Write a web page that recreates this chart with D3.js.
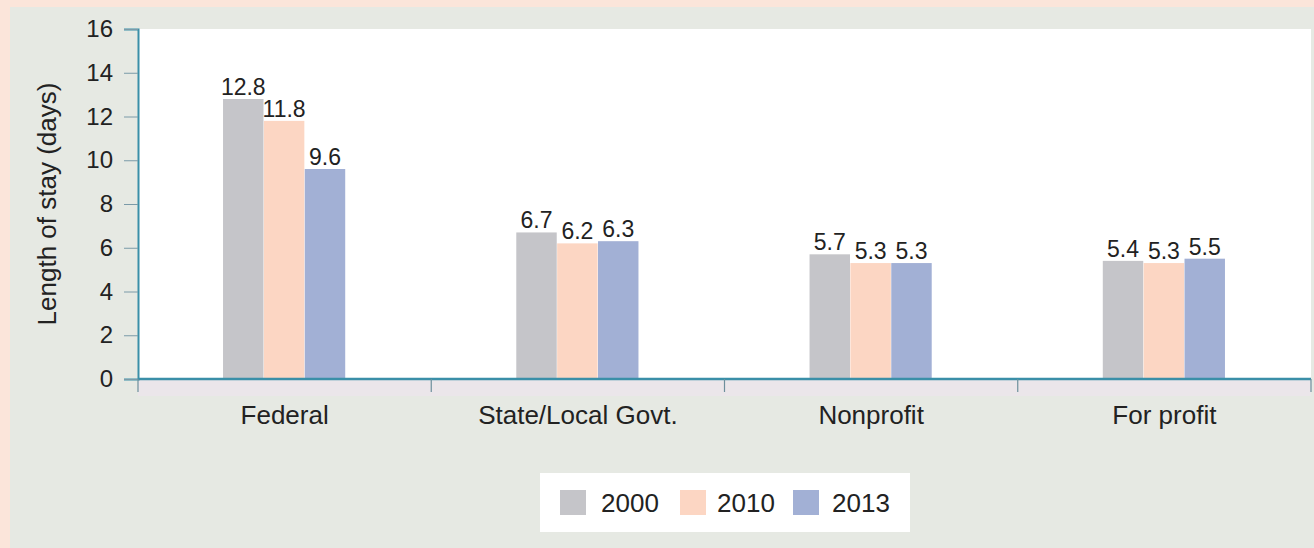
<!DOCTYPE html>
<html>
<head>
<meta charset="utf-8">
<script src="https://cdn.jsdelivr.net/npm/d3@7"></script>
<style>
  html, body { margin: 0; padding: 0; background: #fbe5da; }
  svg { display: block; font-family: "Liberation Sans", Arial, sans-serif; }
</style>
</head>
<body>
<svg id="chart" width="1314" height="548"></svg>
<script>
// Average length of hospital stay by ownership type
const categories = ["Federal", "State/Local Govt.", "Nonprofit", "For profit"];
const years = ["2000", "2010", "2013"];
const values2000 = [12.8, 6.7, 5.7, 5.4];
const values2010 = [11.8, 6.2, 5.3, 5.3];
const values2013 = [9.6, 6.3, 5.3, 5.5];
const yTicks = [0, 2, 4, 6, 8, 10, 12, 14, 16];
const colors = ["#c5c5c9", "#fcd6c3", "#a2b0d5"];

const series = [values2000, values2010, values2013];

const svg = d3.select("#chart");
const W = 1314, H = 548;
const plot = { left: 138, right: 1311, top: 29, bottom: 379 };
const FONT = "Liberation Sans, Arial, sans-serif";

// panel background
svg.append("rect").attr("x", 10).attr("y", 7).attr("width", W - 10).attr("height", H - 7)
  .attr("fill", "#e6e9e3");
// plot area
svg.append("rect").attr("x", plot.left).attr("y", plot.top)
  .attr("width", plot.right - plot.left).attr("height", plot.bottom - plot.top)
  .attr("fill", "#ffffff");
// faint band beneath the baseline
svg.append("rect").attr("x", plot.left).attr("y", plot.bottom + 1)
  .attr("width", plot.right - plot.left).attr("height", 16)
  .attr("fill", "#ebe6ea");

const x = d3.scaleBand().domain(categories).range([plot.left, plot.right]).paddingInner(0).paddingOuter(0);
const xSub = d3.scaleBand().domain(years).range([0, 123]).padding(0.01);
const y = d3.scaleLinear().domain([0, 16]).range([plot.bottom, plot.top]);

const axisColor = "#3a8fa8";

// bars
const rows = categories.map((c, i) => ({ cat: c, vals: years.map((yr, j) => ({ yr, v: series[j][i], j })) }));
const groups = svg.append("g").selectAll("g").data(rows).join("g")
  .attr("transform", d => `translate(${x(d.cat) + x.bandwidth() / 2 - 62},0)`);

groups.selectAll("rect").data(d => d.vals).join("rect")
  .attr("x", d => xSub(d.yr))
  .attr("y", d => y(d.v))
  .attr("width", xSub.bandwidth())
  .attr("height", d => y(0) - y(d.v))
  .attr("fill", d => colors[d.j]);

groups.selectAll("text").data(d => d.vals).join("text")
  .attr("x", d => xSub(d.yr) + xSub.bandwidth() / 2)
  .attr("y", d => y(d.v) - 4)
  .attr("text-anchor", "middle")
  .attr("font-size", 23)
  .attr("font-family", FONT)
  .attr("fill", "#222")
  .text(d => d.v.toFixed(1));

// y axis
const yAxis = svg.append("g").attr("transform", `translate(${plot.left},0)`)
  .call(d3.axisLeft(y).tickValues(yTicks).tickSize(14).tickPadding(11).tickFormat(d3.format("d")));
yAxis.select(".domain").attr("stroke", axisColor).attr("stroke-width", 2);
yAxis.selectAll(".tick line").attr("stroke", "#7a9aa8").attr("stroke-width", 1);
yAxis.selectAll(".tick text").attr("font-size", 24).attr("fill", "#222")
  .attr("font-family", FONT);

// x axis
const xAxis = svg.append("g").attr("transform", `translate(0,${plot.bottom})`)
  .call(d3.axisBottom(x).tickSize(0).tickPadding(31));
xAxis.select(".domain").remove();
svg.append("line").attr("x1", plot.left).attr("x2", plot.right)
  .attr("y1", plot.bottom).attr("y2", plot.bottom)
  .attr("stroke", axisColor).attr("stroke-width", 2.5);
const bounds = categories.map(c => x(c)).concat([plot.right]);
svg.append("g").selectAll("line").data(bounds).join("line")
  .attr("x1", d => d).attr("x2", d => d)
  .attr("y1", plot.bottom).attr("y2", plot.bottom + 13)
  .attr("stroke", "#6d8f9c").attr("stroke-width", 1.2);
xAxis.selectAll(".tick text").attr("font-size", 26).attr("fill", "#222")
  .attr("font-family", FONT).attr("dy", "0.55em");

// y axis title
svg.append("text")
  .attr("transform", "translate(56,204) rotate(-90)")
  .attr("text-anchor", "middle")
  .attr("font-size", 26)
  .attr("font-family", FONT)
  .attr("fill", "#222")
  .text("Length of stay (days)");

// legend
const legend = svg.append("g");
legend.append("rect").attr("x", 540).attr("y", 473).attr("width", 370).attr("height", 59).attr("fill", "#ffffff");
const swatchX = [560, 680, 793];
const labelX = [601, 717, 832];
legend.selectAll("rect.sw").data(years).join("rect").attr("class", "sw")
  .attr("x", (d, i) => swatchX[i]).attr("y", 490)
  .attr("width", 26).attr("height", 25).attr("fill", (d, i) => colors[i]);
legend.selectAll("text").data(years).join("text")
  .attr("x", (d, i) => labelX[i]).attr("y", 512)
  .attr("font-size", 26).attr("font-family", FONT).attr("fill", "#222").text(d => d);
</script>
</body>
</html>
